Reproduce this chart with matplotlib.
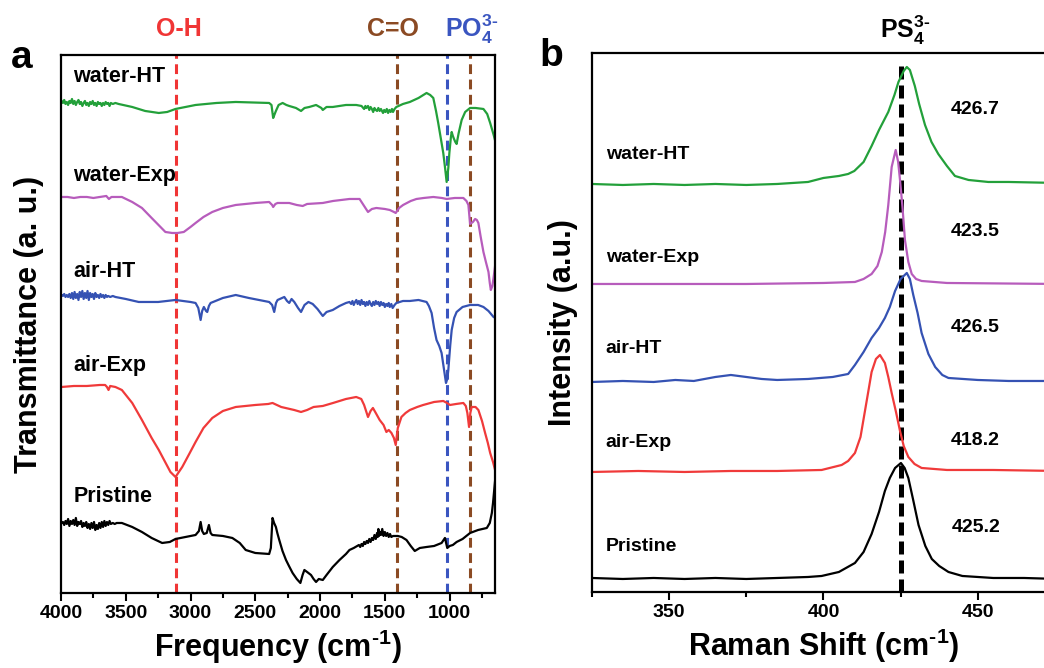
import matplotlib

matplotlib.use("Agg", force=True)
import matplotlib.pyplot as plt
import numpy as np
from matplotlib.ticker import MultipleLocator

plt.rcParams["font.family"] = ["Liberation Sans", "DejaVu Sans"]
plt.rcParams["font.weight"] = "bold"
plt.rcParams["mathtext.fontset"] = "custom"
plt.rcParams["mathtext.rm"] = "Liberation Sans:bold"
plt.rcParams["mathtext.bf"] = "Liberation Sans:bold"

# ---- panel a: FTIR (wavenumber, offset transmittance) ----
ftir_water_ht = [
    (3995, 492), (3985, 490), (3975, 493), (3965, 489), (3955, 491), (3945, 488), (3935, 492),
    (3925, 490), (3915, 494), (3905, 489), (3895, 492), (3885, 488), (3875, 491), (3865, 493),
    (3855, 489), (3845, 491), (3835, 487), (3825, 490), (3815, 492), (3805, 488), (3795, 490),
    (3785, 487), (3775, 491), (3765, 489), (3755, 492), (3745, 488), (3735, 490), (3725, 487),
    (3715, 491), (3705, 489), (3695, 490), (3685, 487), (3675, 490), (3665, 488), (3655, 491),
    (3645, 489), (3635, 490), (3625, 487), (3615, 490), (3600, 489), (3580, 490), (3555, 489),
    (3450, 486), (3350, 482), (3245, 480), (3180, 481), (3116, 484), (2961, 488),
    (2800, 490), (2651, 491), (2393, 490), (2375, 488), (2362, 475), (2350, 479), (2341, 482),
    (2320, 488), (2289, 490), (2260, 488), (2238, 487), (2186, 485), (2147, 482), (2120, 485),
    (2083, 486), (2031, 488), (1990, 485), (1979, 483), (1950, 486), (1902, 486), (1800, 488),
    (1721, 488), (1680, 487), (1660, 484), (1650, 487), (1643, 485), (1630, 487), (1620, 483),
    (1610, 486), (1600, 484), (1590, 481), (1580, 485), (1570, 483), (1560, 482), (1550, 485),
    (1540, 482), (1530, 484), (1514, 480), (1505, 483), (1495, 481), (1485, 484), (1475, 480),
    (1465, 483), (1455, 481), (1445, 484), (1437, 481), (1425, 484), (1411, 486), (1360, 489),
    (1307, 491), (1240, 495), (1178, 500), (1150, 498),
    (1126, 495), (1105, 482), (1088, 470), (1049, 440), (1035, 425), (1023, 411), (1010, 425),
    (1002, 440), (990, 456), (984, 461), (975, 457), (966, 454), (956, 451), (946, 449),
    (930, 460), (907, 473), (880, 481), (842, 485), (800, 485), (739, 484), (710, 479),
    (687, 470), (660, 458), (650, 453),
]
ftir_water_exp = [
    (3995, 396), (3950, 396), (3900, 395), (3850, 396), (3800, 396), (3750, 395), (3700, 396),
    (3650, 397), (3630, 394), (3610, 396), (3530, 396), (3450, 391), (3375, 385), (3300, 375),
    (3194, 361), (3142, 360), (3100, 360), (3052, 361), (3000, 366), (2961, 370), (2900, 376),
    (2832, 381), (2750, 385), (2651, 388), (2500, 390), (2393, 391), (2370, 388), (2362, 386),
    (2345, 389), (2328, 390), (2238, 390), (2180, 388), (2134, 387), (2100, 389), (1979, 390),
    (1900, 392), (1773, 394), (1695, 394), (1665, 388), (1630, 381), (1600, 384), (1566, 385),
    (1500, 384), (1462, 383), (1430, 381), (1416, 380), (1390, 385), (1359, 388), (1300, 392),
    (1256, 394), (1200, 395), (1126, 396), (1060, 395), (1023, 394), (960, 395), (894, 395),
    (870, 392), (855, 388), (842, 369), (820, 371), (803, 374), (790, 373), (778, 370),
    (760, 356), (739, 341), (720, 331), (700, 321), (690, 310), (682, 303), (670, 307),
    (661, 315), (650, 326), (645, 332),
]
ftir_air_ht = [
    (3995, 298), (3985, 297), (3975, 299), (3965, 296), (3955, 298), (3945, 296), (3935, 299),
    (3925, 295), (3915, 300), (3905, 294), (3895, 301), (3885, 295), (3875, 299), (3865, 293),
    (3855, 301), (3845, 296), (3835, 302), (3825, 294), (3815, 300), (3805, 295), (3795, 302),
    (3785, 293), (3775, 300), (3765, 296), (3755, 299), (3745, 294), (3735, 300), (3725, 296),
    (3715, 298), (3705, 295), (3695, 299), (3685, 296), (3675, 298), (3665, 295), (3655, 298),
    (3645, 296), (3635, 297), (3620, 296), (3600, 297), (3580, 296), (3500, 294), (3400, 291),
    (3250, 291), (3116, 293), (3000, 291), (2961, 290), (2940, 285), (2922, 273), (2910, 282),
    (2897, 286), (2880, 282), (2871, 281), (2858, 287), (2845, 290), (2750, 295), (2651, 298),
    (2550, 295), (2393, 291), (2370, 288), (2354, 281), (2340, 290), (2328, 293), (2276, 296),
    (2255, 292), (2238, 290), (2220, 294), (2199, 291), (2170, 285), (2147, 281), (2120, 288),
    (2090, 291), (2057, 289), (2020, 284), (1979, 277), (1950, 281), (1902, 283), (1850, 287),
    (1800, 290), (1773, 291), (1760, 289), (1750, 292), (1740, 288), (1730, 291), (1720, 293),
    (1710, 289), (1700, 292), (1690, 288), (1680, 293), (1670, 289), (1660, 291), (1650, 287),
    (1640, 291), (1630, 288), (1620, 292), (1610, 289), (1600, 287), (1590, 291), (1580, 288),
    (1570, 292), (1560, 289), (1550, 291), (1540, 287), (1530, 291), (1520, 288), (1510, 290),
    (1500, 286), (1490, 289), (1480, 287), (1470, 290), (1462, 286), (1450, 289), (1440, 285),
    (1425, 288), (1411, 290), (1360, 292), (1307, 292), (1240, 293), (1178, 291), (1160, 287),
    (1139, 280), (1120, 265), (1101, 253), (1080, 247), (1062, 240), (1045, 225), (1028, 210),
    (1018, 214), (1010, 223), (995, 248), (984, 263), (965, 275), (946, 281), (900, 286),
    (842, 288), (780, 288), (739, 286), (700, 282), (661, 276), (645, 275),
]
ftir_air_exp = [
    (3995, 206), (3900, 207), (3800, 207), (3700, 208), (3659, 208), (3645, 206), (3633, 203),
    (3620, 207), (3580, 206), (3530, 203), (3450, 190), (3375, 173), (3300, 155), (3245, 143),
    (3200, 132), (3155, 121), (3116, 116), (3090, 121), (3064, 126), (3010, 139), (2961, 151),
    (2900, 165), (2832, 175), (2750, 182), (2651, 186), (2500, 188), (2400, 189), (2367, 190),
    (2300, 186), (2200, 183), (2147, 181), (2100, 183), (2050, 186), (1979, 187), (1900, 190),
    (1800, 194), (1721, 196), (1682, 194), (1660, 188), (1630, 176), (1610, 182), (1592, 185),
    (1570, 180), (1540, 173), (1510, 168), (1488, 161), (1470, 163), (1449, 160), (1430, 155),
    (1416, 148), (1400, 165), (1372, 176), (1340, 180), (1307, 183), (1250, 186), (1204, 188),
    (1120, 191), (1049, 192), (1020, 190), (997, 188), (950, 189), (894, 190), (875, 187),
    (863, 180), (850, 166), (840, 180), (830, 186), (800, 186), (778, 183), (750, 172),
    (726, 160), (705, 150), (687, 140), (665, 131), (645, 121),
]
ftir_pristine = [
    (3995, 70), (3985, 71), (3975, 68), (3965, 72), (3955, 69), (3945, 74), (3935, 67),
    (3925, 72), (3915, 69), (3905, 73), (3895, 68), (3885, 75), (3875, 67), (3865, 71),
    (3855, 69), (3845, 72), (3835, 66), (3825, 70), (3815, 67), (3805, 71), (3795, 65),
    (3785, 69), (3775, 64), (3765, 70), (3755, 65), (3745, 71), (3735, 63), (3725, 68),
    (3715, 64), (3705, 70), (3695, 65), (3685, 71), (3675, 66), (3665, 72), (3655, 67),
    (3645, 71), (3635, 68), (3625, 72), (3615, 69), (3600, 70), (3585, 69), (3570, 70),
    (3530, 70), (3450, 66), (3375, 61), (3300, 55),
    (3219, 50), (3160, 51), (3116, 54), (3040, 56), (2961, 58), (2935, 62), (2922, 71),
    (2910, 62), (2897, 59), (2875, 60), (2858, 68), (2845, 60), (2832, 58), (2750, 57),
    (2677, 55), (2620, 50), (2574, 43), (2500, 40), (2393, 39), (2380, 45), (2367, 75),
    (2355, 70), (2341, 66), (2330, 60), (2315, 53), (2290, 42), (2263, 33), (2240, 27),
    (2212, 20), (2180, 14), (2152, 10), (2135, 18), (2121, 23), (2100, 21), (2070, 18),
    (2050, 14), (2031, 11), (2010, 14), (1979, 13), (1950, 18), (1902, 26), (1850, 33),
    (1800, 39), (1773, 43), (1740, 45), (1700, 48), (1690, 46), (1680, 49), (1670, 47),
    (1660, 51), (1650, 49), (1640, 52), (1630, 50), (1620, 54), (1610, 51), (1600, 55),
    (1590, 53), (1580, 58), (1570, 54), (1560, 60), (1555, 56), (1550, 64), (1545, 57),
    (1540, 61), (1530, 58), (1520, 64), (1510, 57), (1500, 61), (1490, 57), (1480, 60),
    (1470, 56), (1460, 59), (1450, 56), (1437, 57), (1400, 57), (1370, 56), (1333, 53),
    (1300, 47), (1269, 42), (1230, 45), (1178, 46), (1120, 47), (1062, 50), (1036, 55),
    (1018, 45), (1000, 47), (975, 48), (946, 51), (900, 54), (842, 60), (780, 63), (713, 65),
    (690, 70), (674, 80), (665, 90), (656, 103), (650, 112), (645, 118),
]
ftir_series = [
    ("water-HT", ftir_water_ht, "#23a03a", 516),
    ("water-Exp", ftir_water_exp, "#b75cbc", 417),
    ("air-HT", ftir_air_ht, "#3552b3", 321),
    ("air-Exp", ftir_air_exp, "#f03a3a", 227),
    ("Pristine", ftir_pristine, "black", 96),
]
ftir_marks = [(3110, "#f03535"), (1410, "#8b4a23"), (1020, "#3a55c0"), (845, "#8b4a23")]

# ---- panel b: Raman (shift, offset intensity) ----
raman_water_ht = [
    (325, 408), (335, 407), (345, 408), (355, 407), (365, 408), (375, 407), (385, 408),
    (395, 410), (400, 414), (405, 416), (408, 418), (410, 421), (413, 430), (415.6, 446),
    (418, 462), (421, 480), (423, 497), (424.3, 510), (426, 521), (427, 525), (428, 522),
    (429.6, 506), (431, 488), (432.9, 467), (435, 450), (437.2, 438), (440, 426), (442.6, 416),
    (447, 412), (453.4, 410), (460, 410), (476, 409),
]
raman_water_exp = [
    (325, 308), (350, 308), (375, 308), (400, 309), (410.2, 310), (413, 313), (415.6, 318),
    (417.5, 326), (418.9, 340), (420, 360), (421, 387), (422.1, 425), (423.4, 442),
    (424.2, 430), (424.8, 412), (425.6, 385), (426.4, 352), (427.5, 330), (428.6, 318),
    (430, 313), (431.8, 311), (440, 309), (476, 308),
]
raman_air_ht = [
    (325, 210), (335, 211), (345, 210), (352, 212), (358, 211), (365, 215), (370, 217),
    (375, 215), (380, 213), (385, 212), (395, 213), (403, 215), (408, 218), (410.2, 227),
    (413, 240), (415.6, 254), (418, 264), (419.9, 274), (421.5, 285), (423.2, 301), (425, 313),
    (427, 319), (428, 313), (429.1, 297), (430.5, 279), (431.8, 259), (434, 238), (436.2, 225),
    (438.5, 217), (440.5, 214), (450, 212), (460, 211), (476, 211),
]
raman_air_exp = [
    (325, 120), (340, 121), (355, 120), (370, 121), (385, 121), (399.4, 122), (405.9, 127),
    (408, 131), (410.2, 139), (412, 155), (413.5, 182), (414.5, 200), (415.6, 220), (417, 233),
    (418.3, 237), (419.9, 229), (421, 215), (422.1, 199), (423.5, 180), (424.8, 161), (426, 146),
    (427.5, 135), (429.5, 128), (431.8, 124), (440, 122), (455, 122), (476, 121),
]
raman_pristine = [
    (325, 14), (335, 13), (345, 14), (355, 13), (365, 14), (375, 13), (385, 14), (395, 15),
    (399.4, 16), (405, 20), (410.2, 29), (413, 40), (415.6, 58), (418, 80), (419.9, 101),
    (421.5, 114), (423.2, 124), (425.1, 129), (426.3, 124), (427.5, 114), (429, 93),
    (430.8, 67), (433, 46), (435.1, 33), (437.5, 26), (440.5, 20), (445, 16), (455, 14),
    (465, 14), (476, 13),
]
raman_series = [
    ("water-HT", raman_water_ht, "#23a03a", 437, "426.7", 482),
    ("water-Exp", raman_water_exp, "#b75cbc", 334, "423.5", 360),
    ("air-HT", raman_air_ht, "#3552b3", 243, "426.5", 264),
    ("air-Exp", raman_air_exp, "#f03a3a", 149, "418.2", 151),
    ("Pristine", raman_pristine, "black", 45, "425.2", 64),
]
ps4_position = 425.2

fig = plt.figure(figsize=(10.44, 6.68), dpi=100)
ax_a = fig.add_axes([0.0584, 0.1123, 0.4157, 0.8054])
ax_b = fig.add_axes([0.567, 0.1138, 0.4435, 0.8069])

for ax in (ax_a, ax_b):
    for spine in ax.spines.values():
        spine.set_linewidth(1.6)
    ax.tick_params(axis="x", which="major", length=6, width=1.5, direction="out", pad=3)
    ax.tick_params(axis="x", which="minor", length=3.5, width=1.5, direction="out")
    ax.tick_params(axis="y", left=False, labelleft=False)

# panel a
for wn, color in ftir_marks:
    ax_a.axvline(wn, color=color, lw=2.2, ls=(0, (3.2, 1.8)), zorder=1)
for name, pairs, color, label_y in ftir_series:
    x, y = np.array(pairs).T
    ax_a.plot(x, y, color=color, lw=1.6, zorder=2)
    ax_a.text(3905, label_y, name, fontsize=15.5, fontweight="bold", va="center", ha="left")
ax_a.set_xlim(4000, 650)
ax_a.set_ylim(0, 538)
ax_a.xaxis.set_major_locator(MultipleLocator(500))
ax_a.xaxis.set_minor_locator(MultipleLocator(250))
ax_a.tick_params(axis="x", labelsize=14)
ax_a.set_xlabel(r"Frequency (cm$^{\text{-}1}$)", fontsize=22, fontweight="bold", labelpad=4)
ax_a.set_ylabel("Transmittance (a. u.)", fontsize=22, fontweight="bold", labelpad=12)

# panel b
ax_b.axvline(ps4_position, ymax=0.985, color="black", lw=3.6, ls=(0, (2.6, 1.2)), zorder=1)
for name, pairs, color, label_y, peak, peak_y in raman_series:
    x, y = np.array(pairs).T
    ax_b.plot(x, y, color=color, lw=1.6, zorder=2)
    ax_b.text(329.5, label_y, name, fontsize=14, fontweight="bold", va="center", ha="left")
    ax_b.text(449.3, peak_y, peak, fontsize=14, fontweight="bold", va="center", ha="center")
ax_b.set_xlim(325, 475)
ax_b.set_ylim(0, 539)
ax_b.xaxis.set_major_locator(MultipleLocator(50))
ax_b.xaxis.set_minor_locator(MultipleLocator(25))
ax_b.tick_params(axis="x", labelsize=14)
ax_b.set_xlabel(r"Raman Shift (cm$^{\text{-}1}$)", fontsize=22, fontweight="bold", labelpad=4)
ax_b.set_ylabel("Intensity (a.u.)", fontsize=22, fontweight="bold", labelpad=10)

# band labels and panel letters
fig.text(0.1715, 0.9566, "O-H", color="#f03535", fontsize=18, fontweight="bold", ha="center", va="center")
fig.text(0.3764, 0.9566, "C=O", color="#8b4a23", fontsize=18, fontweight="bold", ha="center", va="center")
fig.text(0.452, 0.9566, r"PO$_{4}^{3\text{-}}$", color="#3a55c0", fontsize=18, fontweight="bold",
         ha="center", va="center")
fig.text(0.8669, 0.955, r"PS$_{4}^{3\text{-}}$", color="black", fontsize=18, fontweight="bold",
         ha="center", va="center")
fig.text(0.021, 0.913, "a", fontsize=28, fontweight="bold", ha="center", va="center")
fig.text(0.528, 0.916, "b", fontsize=28, fontweight="bold", ha="center", va="center")

fig.savefig("out.png", dpi=100)
plt.close(fig)
